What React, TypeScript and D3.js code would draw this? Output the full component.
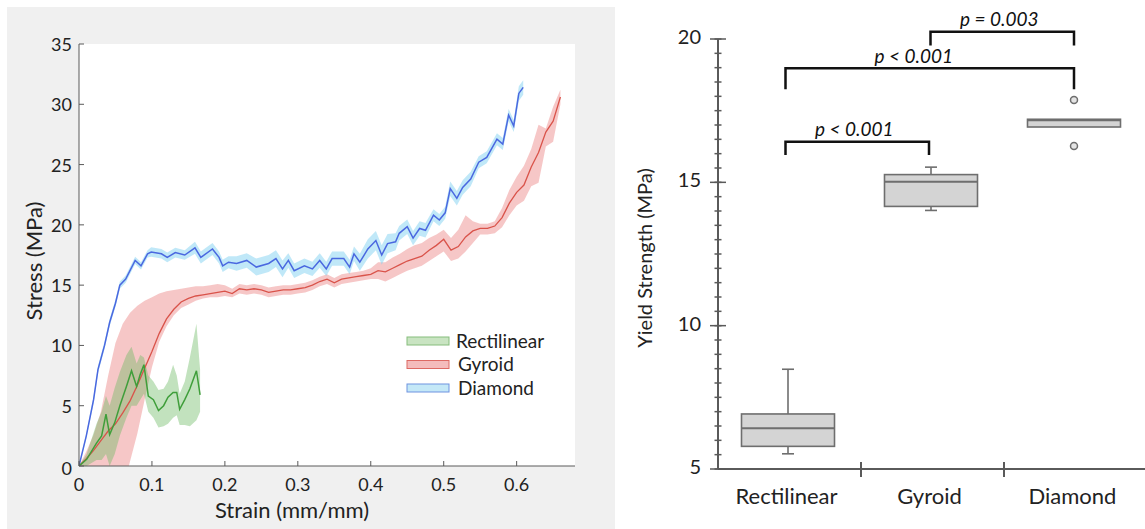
import React from "react";
import * as d3 from "d3";

// ---------- Left panel data: stress–strain curves ----------
const diamondStrain = [0, 0.01, 0.02, 0.026, 0.035, 0.042, 0.05, 0.056, 0.064, 0.077, 0.085, 0.094, 0.099, 0.113, 0.121, 0.132, 0.145, 0.159, 0.167, 0.183, 0.192, 0.197, 0.205, 0.216, 0.23, 0.243, 0.26, 0.27, 0.279, 0.287, 0.295, 0.309, 0.32, 0.33, 0.339, 0.347, 0.363, 0.371, 0.377, 0.385, 0.396, 0.407, 0.415, 0.423, 0.434, 0.439, 0.45, 0.458, 0.467, 0.475, 0.486, 0.494, 0.502, 0.509, 0.518, 0.526, 0.537, 0.548, 0.559, 0.573, 0.581, 0.589, 0.596, 0.603, 0.609];
const diamondStress = [0, 2.5, 5.5, 8, 10, 11.9, 13.5, 15, 15.5, 17.05, 16.6, 17.6, 17.75, 17.6, 17.3, 17.7, 17.5, 18.1, 17.3, 18.0, 17.3, 16.6, 16.9, 16.8, 17.05, 16.5, 16.8, 17.2, 16.35, 17.05, 16.2, 16.6, 16.35, 17.05, 16.35, 17.2, 17.2, 16.5, 17.6, 16.9, 18.0, 18.7, 17.5, 18.45, 18.6, 19.3, 19.85, 18.9, 19.7, 19.55, 20.8, 20.4, 21, 23, 22.2, 23.1, 23.8, 25.2, 25.6, 27.1, 26.7, 29.1, 28.2, 30.9, 31.4];
const diamondSpread = [0, 0.2, 0.3, 0.3, 0.3, 0.3, 0.3, 0.3, 0.3, 0.3, 0.3, 0.3, 0.4, 0.4, 0.4, 0.4, 0.4, 0.5, 0.5, 0.5, 0.5, 0.5, 0.5, 0.6, 0.6, 0.7, 0.7, 0.7, 0.7, 0.6, 0.6, 0.6, 0.6, 0.6, 0.6, 0.6, 0.6, 0.6, 0.6, 0.7, 0.8, 0.8, 0.8, 0.8, 0.7, 0.6, 0.6, 0.6, 0.6, 0.6, 0.5, 0.5, 0.5, 0.6, 0.6, 0.6, 0.6, 0.5, 0.5, 0.5, 0.5, 0.5, 0.5, 0.6, 0.6];

const gyroidStrain = [0, 0.01, 0.02, 0.03, 0.04, 0.05, 0.06, 0.07, 0.08, 0.09, 0.1, 0.11, 0.12, 0.13, 0.14, 0.15, 0.16, 0.17, 0.18, 0.19, 0.2, 0.21, 0.22, 0.23, 0.24, 0.25, 0.26, 0.27, 0.28, 0.29, 0.3, 0.31, 0.32, 0.33, 0.34, 0.35, 0.36, 0.37, 0.38, 0.39, 0.4, 0.41, 0.42, 0.43, 0.44, 0.45, 0.46, 0.47, 0.48, 0.49, 0.5, 0.51, 0.52, 0.53, 0.54, 0.55, 0.56, 0.57, 0.58, 0.59, 0.6, 0.61, 0.62, 0.63, 0.64, 0.65, 0.66];
const gyroidStress = [0, 0.6, 1.3, 2.1, 2.9, 3.5, 4.4, 5.4, 6.7, 8.1, 9.5, 11.0, 12.2, 13.0, 13.6, 13.9, 14.1, 14.2, 14.3, 14.4, 14.5, 14.3, 14.7, 14.6, 14.7, 14.6, 14.4, 14.5, 14.6, 14.6, 14.7, 14.8, 15.0, 15.3, 15.5, 15.2, 15.5, 15.6, 15.7, 15.8, 15.9, 16.2, 16.1, 16.4, 16.7, 17.0, 17.2, 17.4, 17.9, 18.3, 18.8, 17.9, 18.2, 19.0, 19.5, 19.7, 19.7, 19.9, 20.6, 21.8, 22.7, 23.3, 24.8, 26.0, 27.7, 28.6, 30.6];
const gyroidLower = [0, -1, -2, -3, -3.5, -3, -2, 0.4, 2.7, 5.5, 8.2, 10.3, 11.6, 12.5, 13.1, 13.4, 13.7, 13.9, 14.0, 14.0, 14.1, 14.0, 14.3, 14.2, 14.3, 14.2, 14.0, 14.1, 14.2, 14.2, 14.3, 14.4, 14.6, 14.9, 15.1, 14.8, 15.1, 15.2, 15.3, 15.4, 15.5, 15.5, 15.3, 15.6, 15.9, 16.2, 16.4, 16.6, 17.0, 17.4, 17.8, 17.0, 17.2, 17.8, 18.5, 19.2, 19.2, 19.3, 19.8, 20.8, 21.6, 22.0, 23.2, 23.5, 26.5, 26.9, 30.0];
const gyroidUpper = [0, 1.2, 2.6, 4.5, 7.5, 10.2, 11.8, 12.7, 13.3, 13.7, 14.0, 14.3, 14.5, 14.6, 14.7, 14.8, 14.9, 14.9, 15.0, 15.1, 15.0, 14.7, 15.1, 15.0, 15.1, 15.0, 14.8, 14.9, 15.0, 15.0, 15.1, 15.2, 15.4, 15.7, 15.9, 15.6, 15.9, 16.0, 16.1, 16.2, 16.4, 16.9, 16.9, 17.3, 17.6, 18.0, 18.3, 18.5, 18.9, 19.2, 19.6, 18.9, 19.6, 20.8, 20.3, 20.1, 20.1, 20.3, 21.4, 22.9, 24.0, 24.9, 26.3, 28.3, 28.0, 29.8, 31.2];

const rectStrain = [0, 0.0105, 0.024, 0.031, 0.037, 0.042, 0.049, 0.056, 0.065, 0.072, 0.079, 0.084, 0.089, 0.095, 0.102, 0.109, 0.116, 0.122, 0.129, 0.134, 0.138, 0.145, 0.152, 0.161, 0.166];
const rectStress = [0, 0.55, 1.9, 2.5, 4.3, 2.6, 3.6, 5.0, 6.6, 7.9, 6.6, 7.6, 8.4, 5.8, 5.5, 4.6, 5.0, 5.7, 6.1, 6.1, 4.7, 5.5, 6.4, 7.9, 5.9];
const rectLower = [0, 0, 0.5, 0.5, 1, 0, 1, 2.5, 4, 5, 5, 5.5, 6, 4.5, 4, 3.2, 3.3, 3.5, 4.0, 4.2, 3.4, 3.4, 3.3, 3.8, 4.5];
const rectUpper = [0, 1, 3.5, 4.5, 5.8, 5.0, 6.5, 7.8, 9.2, 9.9, 8.5, 9.2, 9.0, 7.5, 7.0, 6.3, 6.4, 7.0, 8.4, 7.5, 6.0, 7.0, 9.0, 11.8, 8.0];

const strainTicks = [0, 0.1, 0.2, 0.3, 0.4, 0.5, 0.6];
const stressTicks = [0, 5, 10, 15, 20, 25, 30, 35];
const legendNames = ["Rectilinear", "Gyroid", "Diamond"];

// ---------- Right panel data: yield strength box plots ----------
const categories = ["Rectilinear", "Gyroid", "Diamond"];
const boxMin = [5.53, 14.02, 16.93];
const boxQ1 = [5.79, 14.16, 16.93];
const boxMedian = [6.42, 15.02, 17.17];
const boxQ3 = [6.92, 15.27, 17.2];
const boxMax = [8.48, 15.53, 17.2];
const boxOutliers = [[], [], [17.87, 16.27]];
const yieldTicksMajor = [5, 10, 15, 20];
const yieldTicksMinor = d3.range(5, 20.01, 0.5);

const sigFrom = [0, 0, 1];
const sigTo = [1, 2, 2];
const sigBar = [16.42, 18.98, 20.25];
const sigLeg = [15.95, 18.25, 19.77];
const sigLabel = ["p < 0.001", "p < 0.001", "p = 0.003"];

const FONT = "Lato, 'Open Sans', sans-serif";

export default function App() {
  // left scales
  const x = d3.scaleLinear().domain([0, 0.68]).range([79, 575]);
  const y = d3.scaleLinear().domain([0, 35]).range([466, 44]);

  const mk = (sx: number[], m: number[], lo: number[], hi: number[]) =>
    sx.map((s, i) => ({ s, m: m[i], lo: lo[i], hi: hi[i] }));
  const diamond = mk(
    diamondStrain,
    diamondStress,
    diamondStress.map((v, i) => v - diamondSpread[i]),
    diamondStress.map((v, i) => v + diamondSpread[i])
  );
  const gyroid = mk(gyroidStrain, gyroidStress, gyroidLower, gyroidUpper);
  const rect = mk(rectStrain, rectStress, rectLower, rectUpper);

  type P = { s: number; m: number; lo: number; hi: number };
  const area = d3
    .area<P>()
    .x((d) => x(d.s))
    .y0((d) => y(d.lo))
    .y1((d) => y(d.hi));
  const line = d3
    .line<P>()
    .x((d) => x(d.s))
    .y((d) => y(d.m));

  const colors = {
    Rectilinear: { line: "#3f9e3a", band: "rgba(110,185,100,0.42)", sw: "#c9e4c2", st: "#86bd7c" },
    Gyroid: { line: "#d9534a", band: "rgba(236,130,130,0.45)", sw: "#f4bcbc", st: "#dd6a64" },
    Diamond: { line: "#4a68e0", band: "rgba(130,210,242,0.5)", sw: "#c4e8f7", st: "#6f93e0" },
  } as Record<string, { line: string; band: string; sw: string; st: string }>;

  // right scales
  const xb = d3.scaleBand().domain(categories).range([718, 1147]).padding(0);
  const yb = d3.scaleLinear().domain([5, 20]).range([469, 39]);
  const cx = (i: number) => (xb(categories[i]) as number) + xb.bandwidth() / 2;
  const boxW = 93;
  const capW = 12;

  const axisColor = "#5a5a5a";

  return (
    <svg
      width={1145}
      height={529}
      style={{ position: "absolute", left: 0, top: 0, background: "#ffffff" }}
      fontFamily={FONT}
    >
      <defs>
        <clipPath id="plotclip">
          <rect x={79} y={44} width={496} height={422} />
        </clipPath>
      </defs>
      {/* ---------- LEFT PANEL ---------- */}
      <rect x={7} y={7} width={608} height={522} fill="#f0f0f0" />
      <rect x={79} y={44} width={496} height={422} fill="#ffffff" />

      <g clipPath="url(#plotclip)">
        <path d={area(gyroid) || ""} fill={colors.Gyroid.band} />
        <path d={area(diamond) || ""} fill={colors.Diamond.band} />
        <path d={area(rect) || ""} fill={colors.Rectilinear.band} />
        <path d={line(gyroid) || ""} fill="none" stroke={colors.Gyroid.line} strokeWidth={1.3} />
        <path d={line(diamond) || ""} fill="none" stroke={colors.Diamond.line} strokeWidth={1.5} />
        <path d={line(rect) || ""} fill="none" stroke={colors.Rectilinear.line} strokeWidth={1.5} />
      </g>

      {/* axes */}
      <line x1={79} x2={79} y1={44} y2={466} stroke={axisColor} strokeWidth={1} />
      <line x1={79} x2={575} y1={466} y2={466} stroke={axisColor} strokeWidth={1} />
      {strainTicks.map((t) => (
        <g key={"xt" + t}>
          <line x1={x(t)} x2={x(t)} y1={466} y2={461} stroke={axisColor} strokeWidth={1} />
          <text x={x(t)} y={484} textAnchor="middle" dominantBaseline="central" fontSize={18} fill="#222">
            {t}
          </text>
        </g>
      ))}
      {stressTicks.map((t) => (
        <g key={"yt" + t}>
          <line x1={79} x2={84} y1={y(t)} y2={y(t)} stroke={axisColor} strokeWidth={1} />
          <text
            x={72}
            y={y(t) + (t === 0 ? 2 : 0)}
            textAnchor="end"
            dominantBaseline="central"
            fontSize={18}
            fill="#222"
          >
            {t}
          </text>
        </g>
      ))}
      <text x={292} y={509} textAnchor="middle" dominantBaseline="central" fontSize={22} fill="#222">
        Strain (mm/mm)
      </text>
      <text
        transform={`translate(33,261) rotate(-90)`}
        textAnchor="middle"
        dominantBaseline="central"
        fontSize={22}
        fill="#222"
      >
        Stress (MPa)
      </text>

      {/* legend */}
      {legendNames.map((n, i) => (
        <g key={"lg" + n}>
          <rect
            x={407}
            y={337 + i * 23.5}
            width={42}
            height={8}
            fill={colors[n].sw}
            stroke={colors[n].st}
            strokeWidth={1}
          />
          <text
            x={456 + (i === 0 ? 0 : 2)}
            y={340 + i * 23.5}
            dominantBaseline="central"
            fontSize={19}
            fill="#222"
          >
            {n}
          </text>
        </g>
      ))}

      {/* ---------- RIGHT PANEL ---------- */}
      <line x1={718} x2={718} y1={yb(20)} y2={yb(5)} stroke={axisColor} strokeWidth={2} />
      <line x1={718} x2={1145} y1={yb(5)} y2={yb(5)} stroke={axisColor} strokeWidth={2} />
      {yieldTicksMinor.map((t) => (
        <line
          key={"ym" + t}
          x1={714.5}
          x2={721.5}
          y1={yb(t)}
          y2={yb(t)}
          stroke={axisColor}
          strokeWidth={1.5}
        />
      ))}
      {yieldTicksMajor.map((t) => (
        <g key={"yM" + t}>
          <line x1={710} x2={726} y1={yb(t)} y2={yb(t)} stroke={axisColor} strokeWidth={1.5} />
          <text x={701} y={yb(t) - 3} textAnchor="end" dominantBaseline="central" fontSize={20} fill="#222">
            {t}
          </text>
        </g>
      ))}
      {categories.slice(1).map((c) => (
        <line
          key={"xc" + c}
          x1={xb(c) as number}
          x2={xb(c) as number}
          y1={yb(5) - 7}
          y2={yb(5) + 8}
          stroke={axisColor}
          strokeWidth={2}
        />
      ))}
      {categories.map((c, i) => (
        <text
          key={"cl" + c}
          x={cx(i) - 3}
          y={495}
          textAnchor="middle"
          dominantBaseline="central"
          fontSize={22}
          fill="#222"
        >
          {c}
        </text>
      ))}
      <text
        transform={`translate(644,258) rotate(-90)`}
        textAnchor="middle"
        dominantBaseline="central"
        fontSize={20}
        fill="#222"
      >
        Yield Strength (MPa)
      </text>

      {/* boxes */}
      {categories.map((c, i) => {
        const mx = cx(i) - 1.5;
        return (
          <g key={"bx" + c} stroke="#6e6e6e" strokeWidth={1.6}>
            {boxMax[i] > boxQ3[i] && (
              <>
                <line x1={mx} x2={mx} y1={yb(boxQ3[i])} y2={yb(boxMax[i])} />
                <line x1={mx - capW / 2} x2={mx + capW / 2} y1={yb(boxMax[i])} y2={yb(boxMax[i])} />
              </>
            )}
            {boxMin[i] < boxQ1[i] && (
              <>
                <line x1={mx} x2={mx} y1={yb(boxQ1[i])} y2={yb(boxMin[i])} />
                <line x1={mx - capW / 2} x2={mx + capW / 2} y1={yb(boxMin[i])} y2={yb(boxMin[i])} />
              </>
            )}
            <rect
              x={mx - boxW / 2}
              y={yb(boxQ3[i])}
              width={boxW}
              height={yb(boxQ1[i]) - yb(boxQ3[i])}
              fill="#d4d4d4"
            />
            <line x1={mx - boxW / 2} x2={mx + boxW / 2} y1={yb(boxMedian[i])} y2={yb(boxMedian[i])} strokeWidth={2} />
            {boxOutliers[i].map((o) => (
              <circle key={"o" + o} cx={mx} cy={yb(o)} r={3.5} fill="#e4e4e4" strokeWidth={1.5} />
            ))}
          </g>
        );
      })}

      {/* significance brackets */}
      {sigFrom.map((f, k) => {
        const x1 = cx(f) - 4 + (k === 2 ? 2 : 0);
        const x2 = cx(sigTo[k]) - 1.5 - (k === 0 ? 2 : 0);
        const yBar = yb(sigBar[k]);
        const yLeg = yb(sigLeg[k]);
        const labelX = k === 1 ? (x1 + x2) / 2 - 16 : (x1 + x2) / 2 - (k === 0 ? 3 : 3);
        return (
          <g key={"sig" + k}>
            <path
              d={`M${x1},${yLeg}V${yBar}H${x2}V${yLeg}`}
              fill="none"
              stroke="#111"
              strokeWidth={2.5}
            />
            <text
              x={labelX}
              y={yBar - 13}
              textAnchor="middle"
              dominantBaseline="central"
              fontSize={19}
              fontStyle="italic"
              fill="#111"
            >
              {sigLabel[k]}
            </text>
          </g>
        );
      })}
    </svg>
  );
}
